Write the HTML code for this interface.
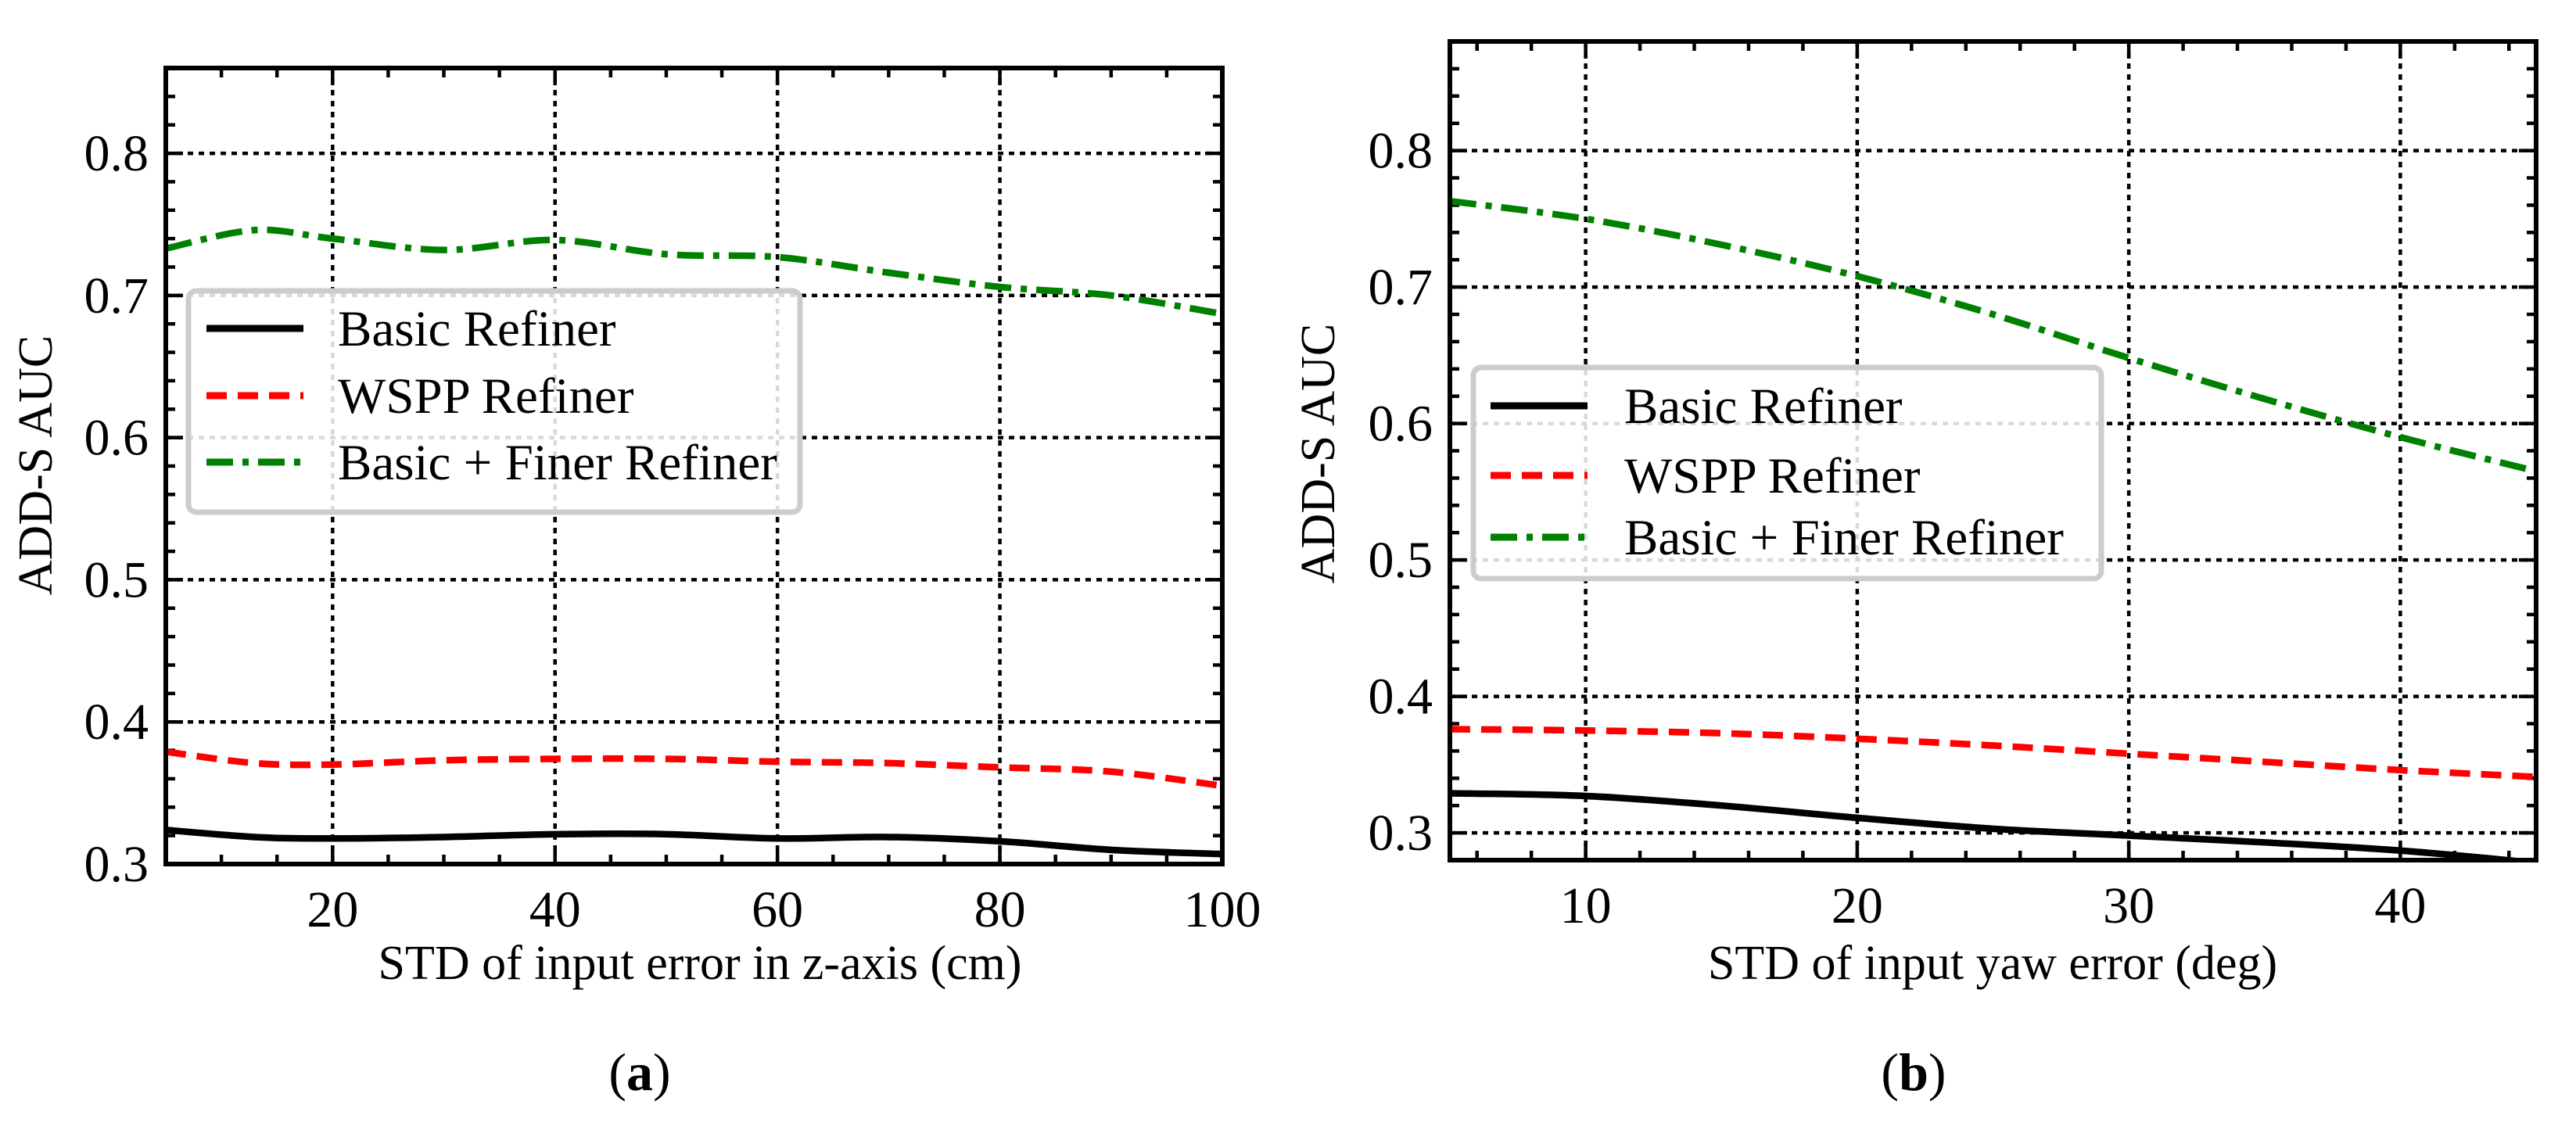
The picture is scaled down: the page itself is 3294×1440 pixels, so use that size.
<!DOCTYPE html>
<html><head><meta charset="utf-8">
<style>
html,body{margin:0;padding:0;background:#fff;}
svg{display:block;font-family:"Liberation Serif",serif;}
</style></head>
<body>
<svg id="fig" width="3294" height="1440" viewBox="0 0 3294 1440" xmlns="http://www.w3.org/2000/svg"></svg>
<script>
// ---- Panel (a) data ----
const xA = [5, 13, 20, 30, 40, 50, 60, 70, 80, 90, 100];
const greenA = [0.733, 0.746, 0.740, 0.732, 0.739, 0.729, 0.727, 0.716, 0.706, 0.700, 0.687];
const redA = [0.379, 0.371, 0.370, 0.373, 0.374, 0.374, 0.372, 0.371, 0.368, 0.365, 0.355];
const blackA = [0.324, 0.319, 0.318, 0.319, 0.321, 0.321, 0.318, 0.319, 0.316, 0.310, 0.307];
const xTicksA = [20, 40, 60, 80, 100];
// ---- Panel (b) data ----
const xB = [5, 10, 15, 20, 25, 30, 35, 40, 45];
const greenB = [0.763, 0.750, 0.731, 0.708, 0.680, 0.648, 0.618, 0.590, 0.565];
const redB = [0.376, 0.375, 0.373, 0.369, 0.364, 0.358, 0.352, 0.346, 0.341];
const blackB = [0.329, 0.327, 0.320, 0.311, 0.303, 0.298, 0.293, 0.287, 0.278];
const xTicksB = [10, 20, 30, 40];
const yTicks = [0.3, 0.4, 0.5, 0.6, 0.7, 0.8];
const legendLabels = ["Basic Refiner", "WSPP Refiner", "Basic + Finer Refiner"];

const NS = "http://www.w3.org/2000/svg";
const svg = document.getElementById('fig');
function mk(tag, attrs, parent){
  const e = document.createElementNS(NS, tag);
  for (const k in attrs) e.setAttribute(k, attrs[k]);
  (parent || svg).appendChild(e);
  return e;
}
function smoothPath(pts){
  let d = `M${pts[0][0]},${pts[0][1]}`;
  for (let i=0;i<pts.length-1;i++){
    const p0=pts[Math.max(0,i-1)], p1=pts[i], p2=pts[i+1], p3=pts[Math.min(pts.length-1,i+2)];
    const c1=[p1[0]+(p2[0]-p0[0])/6, p1[1]+(p2[1]-p0[1])/6];
    const c2=[p2[0]-(p3[0]-p1[0])/6, p2[1]-(p3[1]-p1[1])/6];
    d += ` C${c1[0]},${c1[1]} ${c2[0]},${c2[1]} ${p2[0]},${p2[1]}`;
  }
  return d;
}
const styles = [
  {stroke:'#000', dash:null},
  {stroke:'#ff0000', dash:'26,14'},
  {stroke:'#008000', dash:'34,12,8,12'}
];

function panel(cfg){
  const {id,L,R,T,B,x0,x1,y0,y1,xs,series,xTicks,xMinor,xLabel,yLabelX,yLabelY,xLabelX,cap,capX,leg} = cfg;
  const g = mk('g', {});
  
  
  const sx = v => L + (v-x0)/(x1-x0)*(R-L);
  const sy = v => B - (v-y0)/(y1-y0)*(B-T);
  const clip = mk('clipPath', {id:'clip'+id}, g);
  mk('rect', {x:L,y:T,width:R-L,height:B-T}, clip);
  const grid = mk('g', {stroke:'#000','stroke-width':4.5,'stroke-dasharray':'7,7',fill:'none'}, g);
  
  
  xTicks.forEach(v => { if (v < x1) mk('line',{x1:sx(v),x2:sx(v),y1:T,y2:B},grid); });
  yTicks.forEach(v => { if (v > y0 && v < y1) mk('line',{x1:L,x2:R,y1:sy(v),y2:sy(v)},grid); });
  const tk = mk('g', {stroke:'#000','stroke-width':4.5}, g);
  
  
  for (let v = Math.ceil(x0/xMinor)*xMinor; v <= x1+1e-9; v += xMinor){
    const maj = xTicks.some(t => Math.abs(t-v)<1e-6);
    const len = maj ? 22 : 12;
    mk('line',{x1:sx(v),x2:sx(v),y1:B,y2:B-len},tk);
    mk('line',{x1:sx(v),x2:sx(v),y1:T,y2:T+len},tk);
  }
  for (let k = Math.ceil(y0/0.02-1e-6); k*0.02 <= y1+1e-9; k++){
    const v = k*0.02;
    const maj = yTicks.some(t => Math.abs(t-v)<1e-6);
    const len = maj ? 22 : 12;
    mk('line',{x1:L,x2:L+len,y1:sy(v),y2:sy(v)},tk);
    mk('line',{x1:R,x2:R-len,y1:sy(v),y2:sy(v)},tk);
  }
  const sg = mk('g', {'clip-path':`url(#clip${id})`,fill:'none','stroke-width':8.5}, g);
  series.forEach((ys, si) => {
    const pts = xs.map((x,i) => [sx(x), sy(ys[i])]);
    const p = mk('path', {d:smoothPath(pts), stroke:styles[si].stroke}, sg);
    if (styles[si].dash) p.setAttribute('stroke-dasharray', styles[si].dash);
    
    
  });
  const fr = mk('rect', {x:L,y:T,width:R-L,height:B-T,fill:'none',stroke:'#000','stroke-width':6}, g);
  
  
  xTicks.forEach(v => {
    const t = mk('text',{x:sx(v),y:B+80,'font-size':66,'text-anchor':'middle'},g);
    t.textContent = v;
    
    
  });
  yTicks.forEach(v => {
    if (v < y0-1e-9) return;
    const t = mk('text',{x:L-22,y:sy(v)+22,'font-size':66,'text-anchor':'end'},g);
    t.textContent = v.toFixed(1);
    
    
  });
  const xl = mk('text',{x:xLabelX,y:1252,'font-size':62,'text-anchor':'middle'},g);
  xl.textContent = xLabel;
  
  
  const yl = mk('text',{x:yLabelX,y:yLabelY,'font-size':62,'text-anchor':'middle',transform:`rotate(-90 ${yLabelX} ${yLabelY})`},g);
  yl.textContent = 'ADD-S AUC';
  
  
  const cp = mk('text',{x:capX,y:1394,'font-size':68,'text-anchor':'middle'},g);
  cp.innerHTML = '(<tspan font-weight="bold">' + cap + '</tspan>)';
  
  
  const lg = mk('g', {}, g);
  
  
  mk('rect',{x:leg.x,y:leg.y,width:leg.w,height:leg.h,rx:10,fill:'#fff','fill-opacity':0.85,stroke:'#cccccc','stroke-width':7},lg);
  legendLabels.forEach((lab,i) => {
    const yy = leg.rows[i];
    const ln = mk('line',{x1:leg.lx1,x2:leg.lx2,y1:yy,y2:yy,stroke:styles[i].stroke,'stroke-width':9},lg);
    if (styles[i].dash) ln.setAttribute('stroke-dasharray', styles[i].dash);
    const t = mk('text',{x:leg.tx,y:yy+22,'font-size':65},lg);
    t.textContent = lab;
    
    
  });
}

panel({id:'a',L:212,R:1563,T:87,B:1105,x0:5,x1:100,y0:0.3,y1:0.86,xs:xA,
  series:[blackA,redA,greenA],xTicks:xTicksA,xMinor:5,
  xLabel:'STD of input error in z-axis (cm)',xLabelX:895,yLabelX:66,yLabelY:595,cap:'a',capX:818,
  leg:{x:241,y:372,w:782,h:283,rows:[420,506,591],lx1:264,lx2:388,tx:432}});
panel({id:'b',L:1854,R:3243,T:53,B:1100,x0:5,x1:45,y0:0.28,y1:0.88,xs:xB,
  series:[blackB,redB,greenB],xTicks:xTicksB,xMinor:2,
  xLabel:'STD of input yaw error (deg)',xLabelX:2548,yLabelX:1706,yLabelY:580,cap:'b',capX:2447,
  leg:{x:1884,y:470,w:803,h:270,rows:[519,608,687],lx1:1906,lx2:2030,tx:2077}});
</script>
</body></html>
